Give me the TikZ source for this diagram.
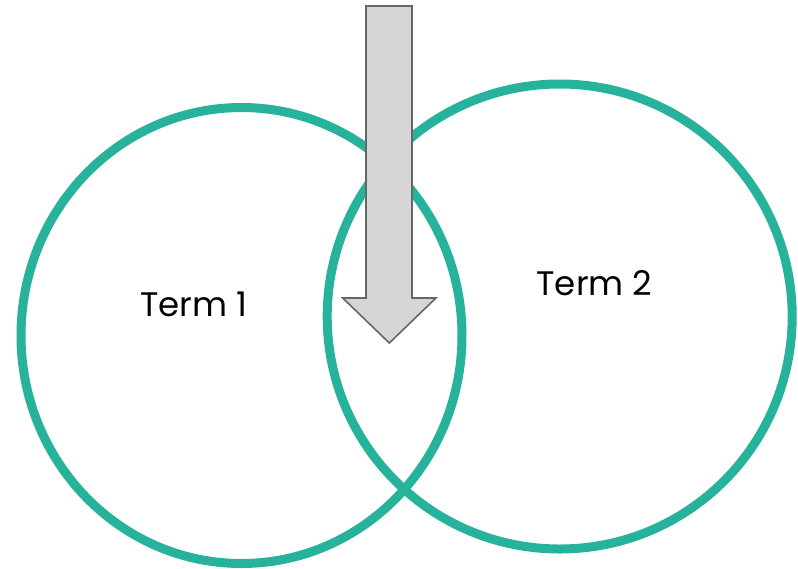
\documentclass[tikz,border=0pt]{standalone}
\usepackage{fontspec}
\setmainfont{Poppins}
\definecolor{venngreen}{HTML}{26B29B}
\definecolor{arrowfill}{HTML}{D6D6D6}
\definecolor{arrowline}{HTML}{666666}
\begin{document}
\begin{tikzpicture}
[x=1pt,y=-1pt,
venn circle/.style={draw=venngreen,line width=9pt},
term text/.style={anchor=base,inner sep=0pt,font=\fontsize{34}{40}\selectfont},
pointer arrow/.style={fill=arrowfill,draw=arrowline,line width=1.6pt,line join=miter}]
\useasboundingbox (0,0) rectangle (798,568);
\draw[venn circle] (241.5,335.5) ellipse [x radius=220.5pt,y radius=228pt];
\draw[venn circle] (559.7,316.5) circle [radius=232.5pt];
\node[term text] (term one) at (194,316.7) {Term 1};
\node[term text] (term two) at (594.5,295) {Term 2};
\draw[pointer arrow] (366,6) -- (412,6) -- (412,298) -- (436,298)
  -- (389.3,343) -- (342.7,298) -- (366,298) -- cycle;
\end{tikzpicture}
\end{document}
